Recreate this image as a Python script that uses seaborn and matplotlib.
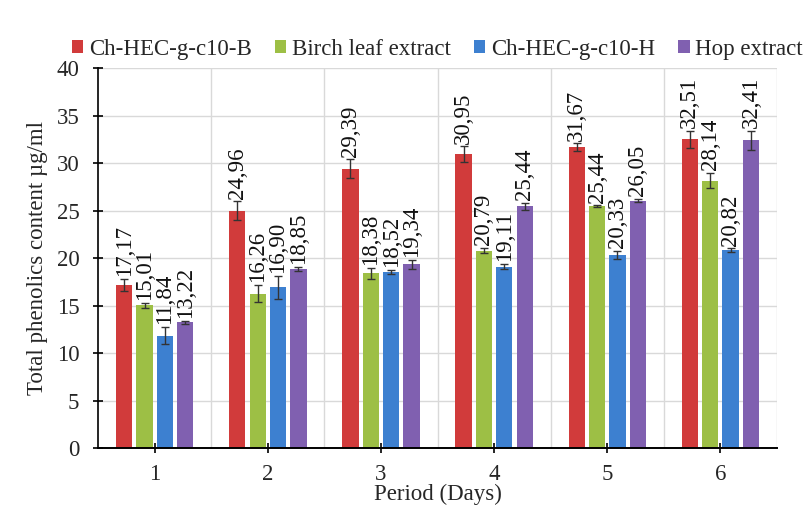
import matplotlib
matplotlib.use("Agg")
import matplotlib.pyplot as plt
import seaborn as sns
import pandas as pd
import numpy as np

days = ["1", "2", "3", "4", "5", "6"]
series = ["Ch-HEC-g-c10-B", "Birch leaf extract", "Ch-HEC-g-c10-H", "Hop extract"]
ch_b = [17.17, 24.96, 29.39, 30.95, 31.67, 32.51]
birch = [15.01, 16.26, 18.38, 20.79, 25.44, 28.14]
ch_h = [11.84, 16.90, 18.52, 19.11, 20.33, 20.82]
hop = [13.22, 18.85, 19.34, 25.44, 26.05, 32.41]
err_ch_b = [0.6, 1.0, 1.0, 0.8, 0.4, 0.9]
err_birch = [0.3, 0.9, 0.6, 0.3, 0.1, 0.8]
err_ch_h = [0.9, 1.2, 0.2, 0.3, 0.4, 0.2]
err_hop = [0.2, 0.2, 0.5, 0.4, 0.2, 1.0]
colors = ["#d13b3b", "#9dbf45", "#3d80d0", "#8060b0"]

vals = [ch_b, birch, ch_h, hop]
errs = [err_ch_b, err_birch, err_ch_h, err_hop]
rows = []
for s, v, e in zip(series, vals, errs):
    for d, x, ee in zip(days, v, e):
        rows.append({"Day": d, "Series": s, "Value": x, "Err": ee})
df = pd.DataFrame(rows)

sns.set_theme(style="white")
plt.rcParams["font.family"] = ["Liberation Serif", "DejaVu Serif"]

fig = plt.figure(figsize=(8.11, 5.12), dpi=100)
ax = fig.add_axes([0.121, 0.125, 0.837, 0.742])
sns.barplot(data=df, x="Day", y="Value", hue="Series", order=days, hue_order=series,
            palette=colors, errorbar=None, width=0.72, gap=0.2, ax=ax,
            saturation=1, zorder=3, linewidth=0)

for cont, s in zip(ax.containers, series):
    sub = df[df["Series"] == s]
    for patch, (_, r) in zip(cont.patches, sub.iterrows()):
        cx = patch.get_x() + patch.get_width() / 2
        h = patch.get_height()
        ax.errorbar(cx, h, yerr=r["Err"], color="#333333", capsize=3, lw=1.0,
                    capthick=1.0, zorder=4)
        ax.text(cx, h + r["Err"] + 0.3, f"{r['Value']:.2f}".replace(".", ","),
                rotation=90, ha="center", va="bottom", fontsize=16.5, color="#111111",
                zorder=5)

ax.set_ylim(0, 40)
ax.set_xlim(-0.5, 5.5)
ax.set_yticks(range(0, 41, 5))
ax.set_xticks(range(6))
ax.set_xticklabels(days)
ax.set_xticks(np.arange(0.5, 5.6, 1), minor=True)
ax.grid(axis="y", color="#d9d9d9", lw=1.0, zorder=0)
ax.grid(axis="x", which="minor", color="#d9d9d9", lw=1.0, zorder=0)
ax.set_axisbelow(True)
for sp in ["top", "right"]:
    ax.spines[sp].set_visible(False)
for sp in ["left", "bottom"]:
    ax.spines[sp].set_color("black")
    ax.spines[sp].set_zorder(10)
ax.spines["left"].set_linewidth(1.2)
ax.spines["bottom"].set_linewidth(1.4)
ax.tick_params(axis="y", which="major", left=True, length=7, direction="inout",
               labelsize=16.5, color="black", width=1.2, pad=10)
ax.tick_params(axis="x", which="major", bottom=True, length=7, direction="inout",
               labelsize=16.5, color="black", width=1.2, pad=8)
ax.tick_params(axis="x", which="minor", bottom=False)
ax.set_xlabel("Period (Days)", fontsize=16.5, labelpad=-1)
ax.set_ylabel("Total phenolics content µg/ml", fontsize=16.5, labelpad=6)

leg = ax.legend(loc="lower center", bbox_to_anchor=(0.5, 0.985), ncol=4, frameon=False,
                fontsize=16.5, handlelength=0.5, handleheight=0.5, handletextpad=0.25,
                columnspacing=1.0, borderaxespad=0.2)

fig.savefig("out.png", dpi=100)
